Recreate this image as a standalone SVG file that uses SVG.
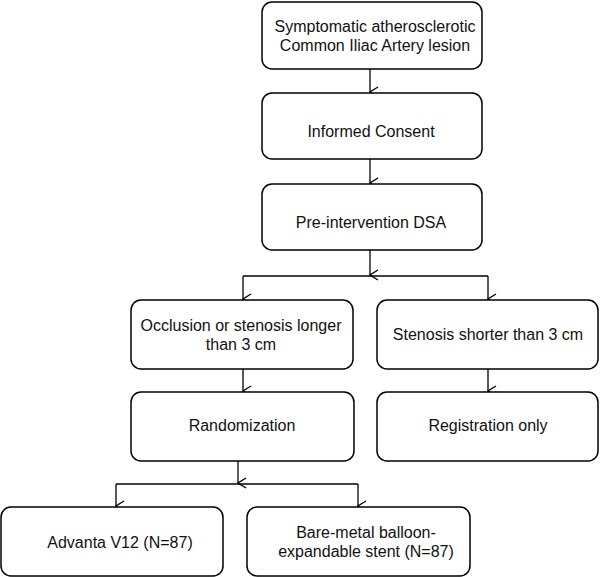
<svg xmlns="http://www.w3.org/2000/svg" width="600" height="577" viewBox="0 0 600 577">
<defs>
<marker id="ah" viewBox="0 0 12 12" refX="6" refY="11" markerWidth="12" markerHeight="12" markerUnits="userSpaceOnUse" orient="auto-start-reverse">
<path d="M1,3 L6,11 L11,3" fill="none" stroke="#000" stroke-width="1.3"/>
</marker>
<style>
.box{fill:#fff;stroke:#000;stroke-width:1.5}
.t{font-family:"Liberation Sans",Arial,sans-serif;font-size:16px;fill:#111;text-anchor:middle}
.c{fill:none;stroke:#000;stroke-width:1.3}
</style>
</defs>
<rect width="600" height="577" fill="#fff"/>
<g id="connectors">
<path class="c" d="M370,69 V92" marker-end="url(#ah)"/>
<path class="c" d="M370,159 V183" marker-end="url(#ah)"/>
<path class="c" d="M370,250 V275" marker-end="url(#ah)"/>
<path class="c" d="M243,276 H488"/>
<path class="c" d="M243,276 V299" marker-end="url(#ah)"/>
<path class="c" d="M488,276 V299" marker-end="url(#ah)"/>
<path class="c" d="M243,369 V391" marker-end="url(#ah)"/>
<path class="c" d="M488,369 V391" marker-end="url(#ah)"/>
<path class="c" d="M238,461 V483" marker-end="url(#ah)"/>
<path class="c" d="M116,484 H358"/>
<path class="c" d="M116,484 V506" marker-end="url(#ah)"/>
<path class="c" d="M358,484 V506" marker-end="url(#ah)"/>
</g>
<g id="n1"><rect class="box" x="262" y="2" width="220" height="67" rx="10"/>
<text class="t" x="375" y="32">Symptomatic atherosclerotic</text>
<text class="t" x="375" y="51">Common Iliac Artery lesion</text></g>
<g id="n2"><rect class="box" x="262" y="93" width="220" height="66" rx="10"/>
<text class="t" x="371" y="137">Informed Consent</text></g>
<g id="n3"><rect class="box" x="262" y="184" width="220" height="66" rx="10"/>
<text class="t" x="371" y="228">Pre-intervention DSA</text></g>
<g id="n4"><rect class="box" x="131" y="300" width="222" height="69" rx="10"/>
<text class="t" x="241" y="331">Occlusion or stenosis longer</text>
<text class="t" x="241" y="350">than 3 cm</text></g>
<g id="n5"><rect class="box" x="377" y="300" width="221" height="69" rx="10"/>
<text class="t" x="488" y="340">Stenosis shorter than 3 cm</text></g>
<g id="n6"><rect class="box" x="131" y="392" width="223" height="69" rx="10"/>
<text class="t" x="242" y="431">Randomization</text></g>
<g id="n7"><rect class="box" x="377" y="392" width="221" height="69" rx="10"/>
<text class="t" x="488" y="431">Registration only</text></g>
<g id="n8"><rect class="box" x="1" y="507" width="222" height="69" rx="10"/>
<text class="t" x="120" y="548">Advanta V12 (N=87)</text></g>
<g id="n9"><rect class="box" x="247" y="507" width="223" height="69" rx="10"/>
<text class="t" x="366" y="538">Bare-metal balloon-</text>
<text class="t" x="366" y="557">expandable stent (N=87)</text></g>
</svg>
